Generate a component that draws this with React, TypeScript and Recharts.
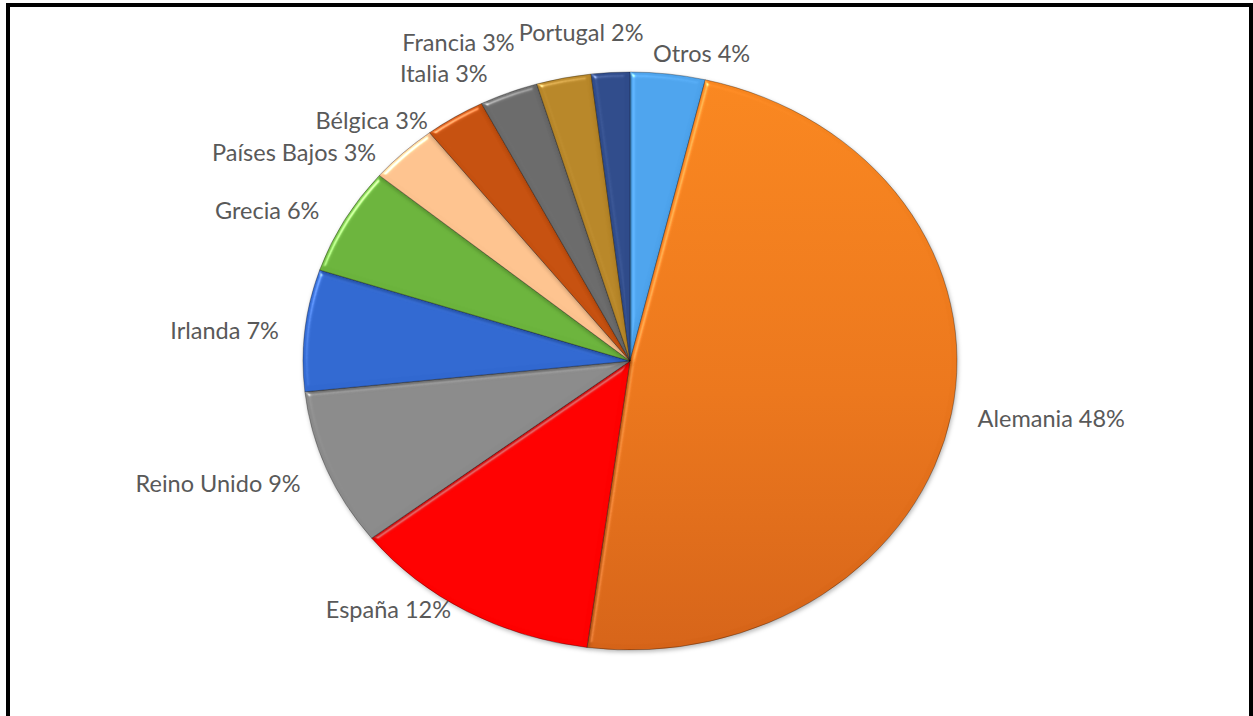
import React from 'react';
import { PieChart, Pie, Cell } from 'recharts';

const countries = ['Otros', 'Alemania', 'España', 'Reino Unido', 'Irlanda', 'Grecia', 'Países Bajos', 'Bélgica', 'Italia', 'Francia', 'Portugal'];
const shares = [3.7, 48.4, 12.4, 8.8, 6.8, 6.0, 3.4, 3.0, 2.9, 2.7, 1.9];
const colors = ['#4DA3EC', 'url(#gradAlemania)', '#FE0000', '#8A8A8A', '#3168D0', '#6BB33C', '#FCC28E', '#C5500F', '#6A6A6A', '#B78628', '#2F4B8A'];

const data = countries.map((name, i) => ({ name, value: shares[i] }));

const K = 289 / 327;
const RAD = Math.PI / 180;

function ellipsePoint(cx: number, cy: number, r: number, angle: number): [number, number] {
  return [cx + r * Math.cos(-angle * RAD), cy + r * K * Math.sin(-angle * RAD)];
}

const EllipseSector = (props: any) => {
  const { cx, cy, outerRadius, startAngle, endAngle, fill } = props;
  const [x1, y1] = ellipsePoint(cx, cy, outerRadius, startAngle);
  const [x2, y2] = ellipsePoint(cx, cy, outerRadius, endAngle);
  const large = Math.abs(endAngle - startAngle) > 180 ? 1 : 0;
  const sweep = startAngle > endAngle ? 1 : 0;
  const d = `M${cx},${cy} L${x1},${y1} A${outerRadius},${outerRadius * K} 0 ${large} ${sweep} ${x2},${y2} Z`;
  return <path d={d} fill={fill} stroke="rgba(0,0,0,0.3)" strokeWidth={1} filter="url(#bevel)" />;
};

// label placement relative to the slice's edge point (dx, dy, anchor)
const labelPlacement: Record<string, [number, number, 'start' | 'end']> = {
  'Otros': [-15, -20, 'start'],
  'Alemania': [26, 6, 'start'],
  'España': [-16, -2, 'end'],
  'Reino Unido': [-26, 15, 'end'],
  'Irlanda': [-26, 1, 'end'],
  'Grecia': [-25, -9, 'end'],
  'Países Bajos': [-27, 0, 'end'],
  'Bélgica': [-27, 4, 'end'],
  'Italia': [-21, -19, 'end'],
  'Francia': [-49, -35, 'end'],
  'Portugal': [33, -40, 'end'],
};

const renderLabel = (props: any) => {
  const { cx, cy, midAngle, outerRadius, index, percent } = props;
  const name = countries[index];
  const [px, py] = ellipsePoint(cx, cy, outerRadius, midAngle);
  const [dx, dy, anchor] = labelPlacement[name];
  return (
    <text
      key={name}
      x={px + dx}
      y={py + dy + 8}
      textAnchor={anchor}
      fill="#595959"
      style={{ fontFamily: 'Lato, "Open Sans", sans-serif', fontSize: 23.5 }}
    >
      {`${name} ${Math.round(percent * 100)}%`}
    </text>
  );
};

export default function App() {
  return (
    <div style={{ position: 'fixed', left: 0, top: 0, width: 1253, height: 716, overflow: 'hidden', background: '#fff' }}>
      <div
        style={{
          position: 'absolute',
          left: 6,
          top: 3,
          width: 1247,
          height: 800,
          border: '4px solid #000',
          boxSizing: 'border-box',
        }}
      />
      <div style={{ position: 'absolute', left: 0, top: 0 }}>
        <PieChart width={1253} height={716} margin={{ top: 0, right: 0, bottom: 0, left: 0 }}>
          <defs>
            <linearGradient id="gradAlemania" x1="0" y1="0" x2="0" y2="1">
              <stop offset="0%" stopColor="#F8861F" />
              <stop offset="55%" stopColor="#EA761C" />
              <stop offset="100%" stopColor="#D56318" />
            </linearGradient>
            <filter id="bevel" x="-5%" y="-5%" width="110%" height="110%" colorInterpolationFilters="sRGB">
              <feGaussianBlur in="SourceAlpha" stdDeviation="2.5" result="blur" />
              <feSpecularLighting in="blur" surfaceScale="3" specularConstant="0.6" specularExponent="40" lightingColor="#ffffff" result="spec">
                <feDistantLight azimuth={225} elevation={40} />
              </feSpecularLighting>
              <feComposite in="spec" in2="SourceAlpha" operator="in" result="specIn" />
              <feComposite in="SourceGraphic" in2="specIn" operator="arithmetic" k1={0} k2={1} k3={0.8} k4={0} result="lit" />
              <feOffset in="SourceAlpha" dx={1} dy={2} result="off" />
              <feGaussianBlur in="off" stdDeviation={2} result="shadowBlur" />
              <feFlood floodColor="#000" floodOpacity={0.28} />
              <feComposite in2="shadowBlur" operator="in" result="shadow" />
              <feMerge>
                <feMergeNode in="shadow" />
                <feMergeNode in="lit" />
              </feMerge>
            </filter>
          </defs>
          <Pie
            data={data}
            dataKey="value"
            nameKey="name"
            cx={630}
            cy={361}
            outerRadius={327}
            startAngle={90}
            endAngle={-270}
            isAnimationActive={false}
            shape={EllipseSector}
            label={renderLabel}
            labelLine={false}
          >
            {data.map((d, i) => (
              <Cell key={d.name} fill={colors[i]} />
            ))}
          </Pie>
        </PieChart>
      </div>
    </div>
  );
}
